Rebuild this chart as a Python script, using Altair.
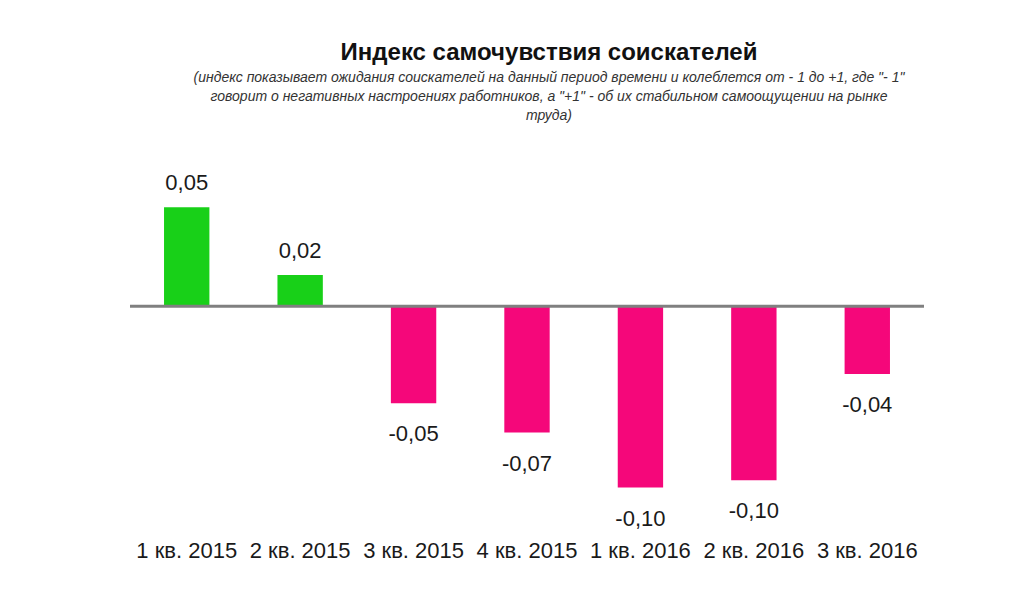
import altair as alt
import pandas as pd

categories = ["1 кв. 2015", "2 кв. 2015", "3 кв. 2015", "4 кв. 2015",
              "1 кв. 2016", "2 кв. 2016", "3 кв. 2016"]
values = [0.054, 0.017, -0.053, -0.069, -0.099, -0.095, -0.037]

title_text = "Индекс самочувствия соискателей"
subtitle_lines = [
    "(индекс показывает ожидания соискателей на данный период времени и колеблется от - 1 до +1, где \"- 1\"",
    "говорит о негативных настроениях работников, а \"+1\" - об их стабильном самоощущении на рынке",
    "труда)",
]

FONT = "Liberation Sans, Arial, sans-serif"
GREEN = "#18D018"
PINK = "#F5077A"

df = pd.DataFrame({"cat": categories, "val": values})

base = alt.Chart(df).transform_calculate(
    label="replace(replace(format(datum.val, '.2f'), '.', ','), '\u2212', '-')",
    pos="datum.val >= 0 ? 'pos' : 'neg'",
)

x_enc = alt.X("cat:N", sort=categories,
              scale=alt.Scale(paddingInner=0.6, paddingOuter=0.3),
              axis=alt.Axis(title=None, labelAngle=0, domain=False, ticks=False, grid=False,
                            labelFontSize=22, labelFont=FONT, labelColor="#1a1a1a",
                            labelPadding=14, labelOverlap=False))
y_scale = alt.Scale(domain=[-0.12, 0.07], nice=False, zero=True)

bars = base.mark_bar().encode(
    x=x_enc,
    y=alt.Y("val:Q", scale=y_scale, axis=None),
    color=alt.Color("pos:N", scale=alt.Scale(domain=["pos", "neg"], range=[GREEN, PINK]), legend=None),
)

zero = alt.Chart(pd.DataFrame({"z": [0]})).mark_rule(color="#808080", strokeWidth=3).encode(
    y=alt.Y("z:Q", scale=y_scale),
    x=alt.value(0), x2=alt.value(794),
)

labels_pos = base.transform_filter("datum.val >= 0").mark_text(
    baseline="bottom", dy=-12, fontSize=22, font=FONT, color="#1a1a1a"
).encode(x=alt.X("cat:N", sort=categories), y=alt.Y("val:Q", scale=y_scale), text="label:N")

labels_neg = base.transform_filter("datum.val < 0").mark_text(
    baseline="top", dy=21, fontSize=22, font=FONT, color="#1a1a1a"
).encode(x=alt.X("cat:N", sort=categories), y=alt.Y("val:Q", scale=y_scale), text="label:N")

chart = alt.layer(bars, zero, labels_pos, labels_neg).properties(
    width=794,
    height=348,
    background="white",
    title=alt.Title(
        text=title_text,
        subtitle=subtitle_lines,
        anchor="middle",
        font=FONT,
        fontSize=24,
        fontWeight="bold",
        color="#111111",
        subtitleFont=FONT,
        subtitleFontSize=14,
        subtitleFontStyle="italic",
        subtitleColor="#333333",
        subtitleLineHeight=19,
        subtitlePadding=6,
        offset=49,
        dx=22,
    ),
    autosize=alt.AutoSizeParams(type="none"),
    padding={"left": 122, "top": 170, "right": 10, "bottom": 50},
).configure_view(strokeWidth=0, stroke="transparent")

chart.save("out.html", embed_options={"renderer": "svg", "actions": False})
